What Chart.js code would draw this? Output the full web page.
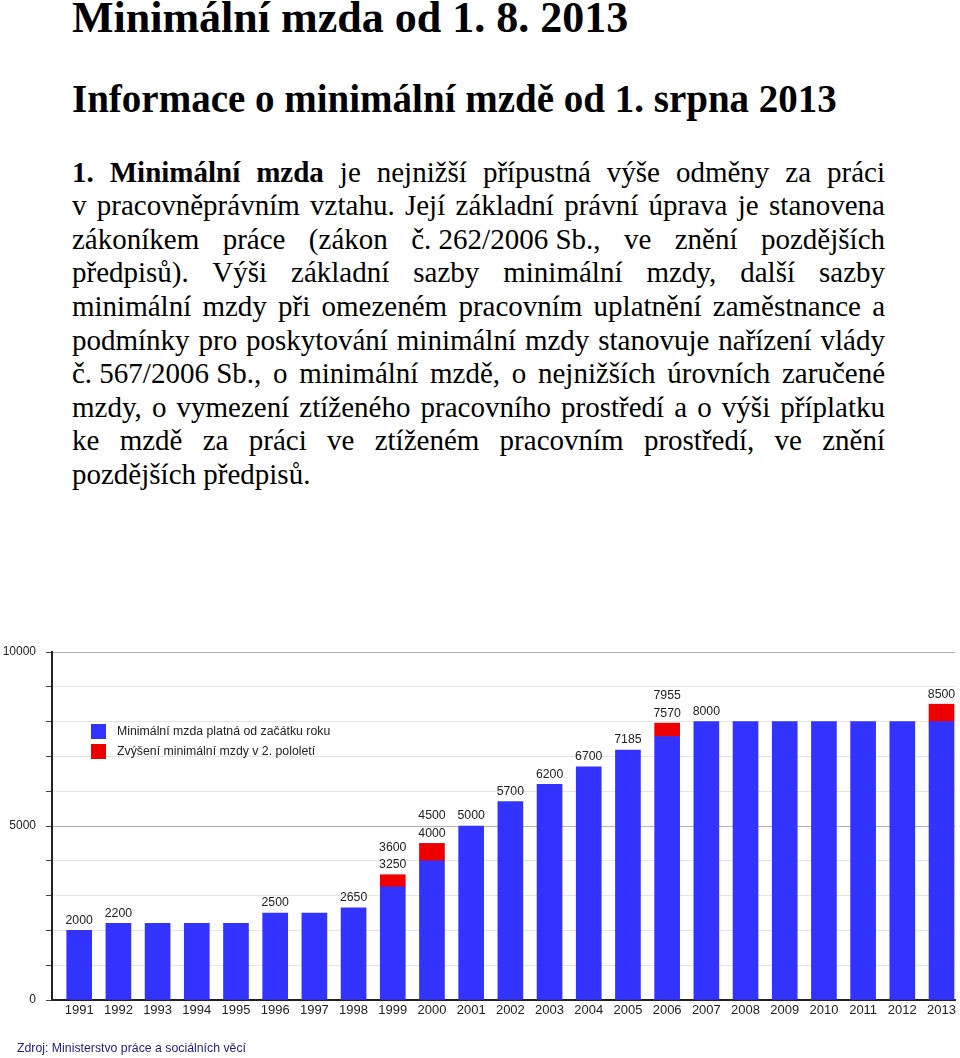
<!DOCTYPE html>
<html>
<head>
<meta charset="utf-8">
<script src="https://cdn.jsdelivr.net/npm/chart.js@4.4.0/dist/chart.umd.min.js"></script>
<style>
  html, body { margin: 0; padding: 0; background: #fff; }
  body { width: 960px; height: 1058px; overflow: hidden; position: relative; color: #000; }
  .serif { font-family: 'Liberation Serif', 'Times New Roman', serif; position: absolute; left: 72px; white-space: nowrap; }
  #h1 { top: -4px; font-size: 44px; line-height: 44px; font-weight: bold; }
  #h2 { top: 79px; font-size: 39px; line-height: 39px; font-weight: bold; }
  .ln { width: 813px; font-size: 29px; line-height: 33.6px; text-align: justify; text-align-last: justify; white-space: normal; }
  .ln.last { text-align: left; text-align-last: left; }
  .tight { display: inline-block; text-align-last: left; }
  #src { position: absolute; left: 17px; top: 1040px; font-family: 'Liberation Sans', Arial, sans-serif; font-size: 12.3px; line-height: 16px; color: #1c1c8a; white-space: nowrap; }
  #c { position: absolute; left: 0; top: 600px; }
</style>
</head>
<body>
<div id="h1" class="serif">Minimální mzda od 1. 8. 2013</div>
<div id="h2" class="serif">Informace o minimální mzdě od 1. srpna 2013</div>
<div class="serif ln" style="top:155.5px"><b>1. Minimální mzda</b> je nejnižší přípustná výše odměny za práci</div>
<div class="serif ln" style="top:189.1px">v pracovněprávním vztahu. Její základní právní úprava je stanovena</div>
<div class="serif ln" style="top:222.7px">zákoníkem práce (zákon <span class="tight">č. 262/2006 Sb.,</span> ve znění pozdějších</div>
<div class="serif ln" style="top:256.3px">předpisů). Výši základní sazby minimální mzdy, další sazby</div>
<div class="serif ln" style="top:289.9px">minimální mzdy při omezeném pracovním uplatnění zaměstnance a</div>
<div class="serif ln" style="top:323.5px">podmínky pro poskytování minimální mzdy stanovuje nařízení vlády</div>
<div class="serif ln" style="top:357.1px"><span class="tight">č. 567/2006 Sb.,</span> o minimální mzdě, o nejnižších úrovních zaručené</div>
<div class="serif ln" style="top:390.7px">mzdy, o vymezení ztíženého pracovního prostředí a o výši příplatku</div>
<div class="serif ln" style="top:424.3px">ke mzdě za práci ve ztíženém pracovním prostředí, ve znění</div>
<div class="serif ln last" style="top:457.9px">pozdějších předpisů.</div>

<canvas id="c" width="960" height="458"></canvas>
<div id="src">Zdroj: Ministerstvo práce a sociálních věcí</div>

<script>
// ---- data ----
const years = ['1991','1992','1993','1994','1995','1996','1997','1998','1999','2000','2001','2002',
               '2003','2004','2005','2006','2007','2008','2009','2010','2011','2012','2013'];
const baseWage = [2000, 2200, 2200, 2200, 2200, 2500, 2500, 2650, 3250, 4000, 5000, 5700,
                  6200, 6700, 7185, 7570, 8000, 8000, 8000, 8000, 8000, 8000, 8000];
const midYearIncrease = [null, null, null, null, null, null, null, null, 350, 500, null, null,
                         null, null, null, 385, null, null, null, null, null, null, 500];
const valueLabels = [['2000'], ['2200'], [], [], [], ['2500'], [], ['2650'], ['3600', '3250'], ['4500', '4000'],
                     ['5000'], ['5700'], ['6200'], ['6700'], ['7185'], ['7955', '7570'], ['8000'],
                     [], [], [], [], [], ['8500']];
const yTickLabels = [0, 5000, 10000];
const seriesNames = ['Minimální mzda platná od začátku roku', 'Zvýšení minimální mzdy v 2. pololetí'];
const seriesColors = ['#3333ff', '#ee0000'];

const FONT = "'Liberation Sans', Arial, sans-serif";
Chart.defaults.font.family = FONT;
Chart.defaults.color = '#222';

const valueLabelPlugin = {
  id: 'valueLabels',
  afterDatasetsDraw(chart) {
    const { ctx, scales: { x, y } } = chart;
    ctx.save();
    ctx.font = '12.3px ' + FONT;
    ctx.fillStyle = '#222';
    ctx.textAlign = 'center';
    ctx.textBaseline = 'middle';
    valueLabels.forEach((lines, i) => {
      if (!lines.length) return;
      const total = baseWage[i] + (midYearIncrease[i] || 0);
      const px = x.getPixelForValue(i);
      const top = y.getPixelForValue(total);
      const rev = lines.slice().reverse();
      rev.forEach((t, k) => ctx.fillText(t, px, top - 10 - k * 17.5));
    });
    ctx.restore();
  }
};

const insideLegendPlugin = {
  id: 'insideLegend',
  afterDatasetsDraw(chart) {
    const ctx = chart.ctx;
    ctx.save();
    ctx.font = '12.3px ' + FONT;
    ctx.textAlign = 'left';
    ctx.textBaseline = 'middle';
    chart.data.datasets.forEach((ds, k) => {
      const top = 124 + k * 20;
      ctx.fillStyle = ds.backgroundColor;
      ctx.fillRect(91, top, 15, 15);
      ctx.fillStyle = '#222';
      ctx.fillText(ds.label, 117, top + 8);
    });
    ctx.restore();
  }
};

new Chart(document.getElementById('c'), {
  type: 'bar',
  data: {
    datasets: [
      { label: seriesNames[0], backgroundColor: seriesColors[0], borderWidth: 0, barThickness: 25,
        data: baseWage.map((v, i) => ({ x: i, y: v })) },
      { label: seriesNames[1], backgroundColor: seriesColors[1], borderWidth: 0, barThickness: 25,
        data: midYearIncrease.map((v, i) => ({ x: i, y: v })) }
    ]
  },
  options: {
    responsive: false,
    animation: false,
    devicePixelRatio: 1,
    layout: { padding: { top: 52, right: 5, bottom: 0, left: 0 } },
    plugins: { legend: { display: false }, tooltip: { enabled: false } },
    scales: {
      x: {
        type: 'linear', stacked: true, offset: false,
        min: -0.694, max: 22.344,
        afterFit(s) { s.height = 58; },
        ticks: {
          stepSize: 1, includeBounds: false, autoSkip: false, maxRotation: 0, padding: 3,
          font: { size: 13 }, color: '#222',
          callback: v => Number.isInteger(v) && years[v] ? years[v] : ''
        },
        grid: { display: false, drawTicks: false, offset: false },
        border: { color: '#222', width: 2 }
      },
      y: {
        stacked: true, min: 0, max: 10000,
        afterFit(s) { s.width = 52; },
        ticks: {
          stepSize: 1000, padding: 10, autoSkip: false, font: { size: 12 }, color: '#222',
          callback: v => yTickLabels.includes(v) ? String(v) : ''
        },
        grid: {
          color: c => (c.tick && c.tick.value % 5000 === 0) ? '#b4b4b4' : '#e4e4e4',
          lineWidth: 1, tickLength: 6, tickColor: '#444', drawTicks: true
        },
        border: { color: '#222', width: 2 }
      }
    }
  },
  plugins: [valueLabelPlugin, insideLegendPlugin]
});
</script>
</body>
</html>
